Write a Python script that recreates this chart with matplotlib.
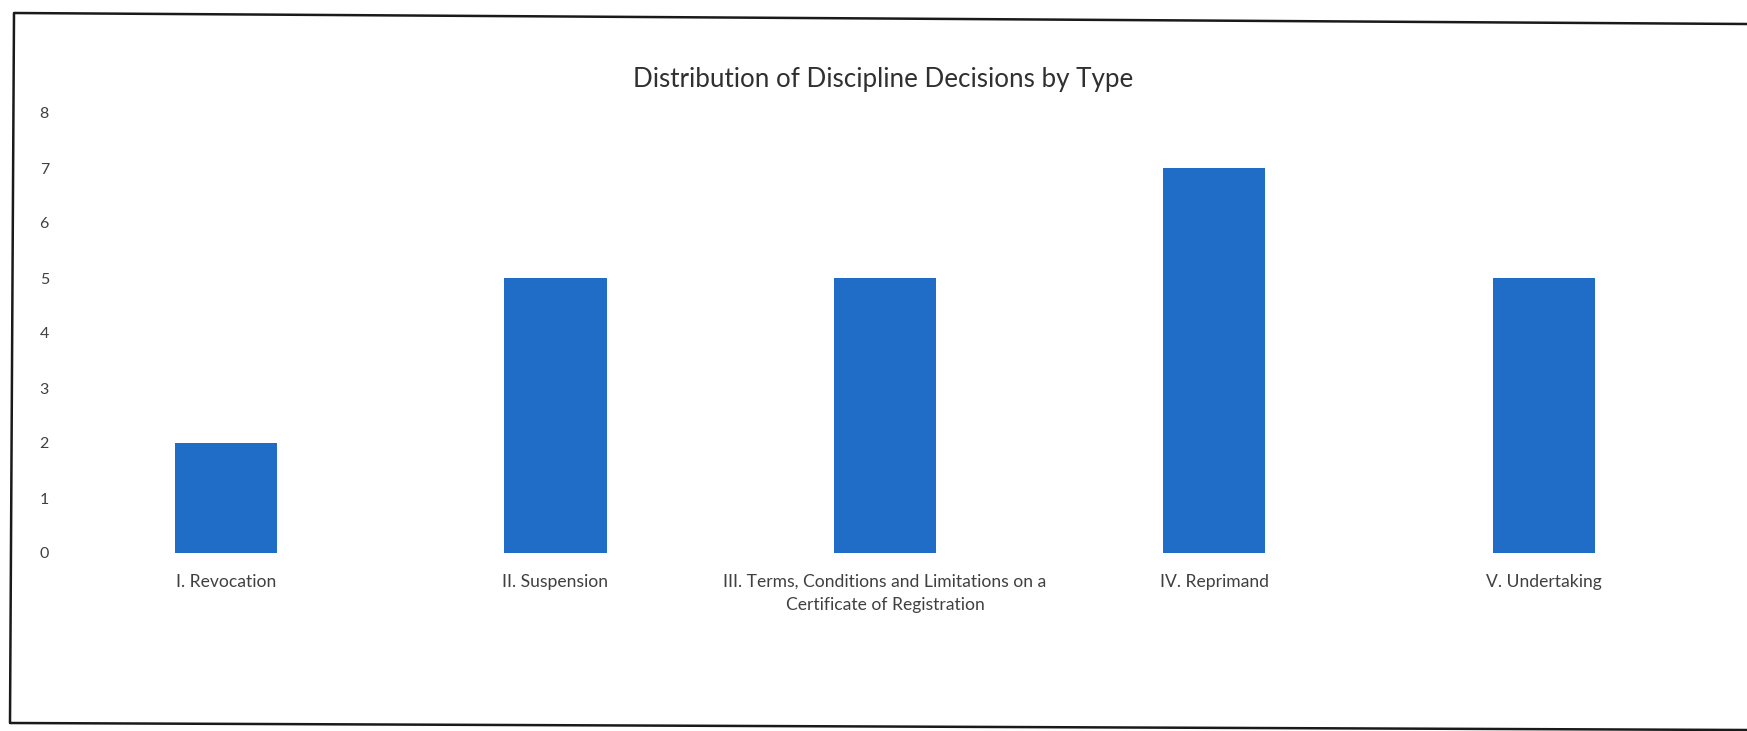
import matplotlib

matplotlib.use("Agg")
import matplotlib.pyplot as plt
from matplotlib.lines import Line2D

# ── Data ────────────────────────────────────────────────────────────
categories = [
    "I. Revocation",
    "II. Suspension",
    "III. Terms, Conditions and Limitations on a\nCertificate of Registration",
    "IV. Reprimand",
    "V. Undertaking",
]
decisions = [2, 5, 5, 7, 5]
y_ticks = [0, 1, 2, 3, 4, 5, 6, 7, 8]

BAR_COLOR = "#1F6DC6"
TEXT_COLOR = "#404040"

plt.rcParams["font.family"] = ["Lato", "DejaVu Sans"]

W, H = 1747, 731
fig = plt.figure(figsize=(W / 100, H / 100), dpi=100)
fig.patch.set_facecolor("white")

# plot area in pixel terms: left 60, right 1730, top 113, bottom 553
ax = fig.add_axes([60 / W, 1 - 553 / H, (1730 - 60) / W, (553 - 113) / H])
x = list(range(len(categories)))
ax.bar(x, decisions, width=0.31, color=BAR_COLOR)

ax.set_xlim(-0.504, 4.565)
ax.set_ylim(0, 8)
ax.set_yticks(y_ticks)
ax.set_xticks(x)
ax.set_xticklabels(categories, fontsize=12.6, color=TEXT_COLOR, linespacing=1.55)
ax.tick_params(axis="y", length=0, pad=8, labelsize=11.5, labelcolor=TEXT_COLOR)
ax.tick_params(axis="x", length=0, pad=15)
for s in ax.spines.values():
    s.set_visible(False)

fig.text(883 / W, 1 - 80 / H, "Distribution of Discipline Decisions by Type",
         ha="center", va="center", fontsize=18.7, color="#303030")

# outer chart frame (slightly skewed like the printed page)
frame_x = [1747 / W, 14 / W, 10 / W, 1747 / W]
frame_y = [1 - 24 / H, 1 - 13 / H, 1 - 723 / H, 1 - 730 / H]
fig.add_artist(Line2D(frame_x, frame_y, transform=fig.transFigure,
                      color="#1a1a1a", linewidth=1.8))

fig.savefig("out.png", dpi=100)
